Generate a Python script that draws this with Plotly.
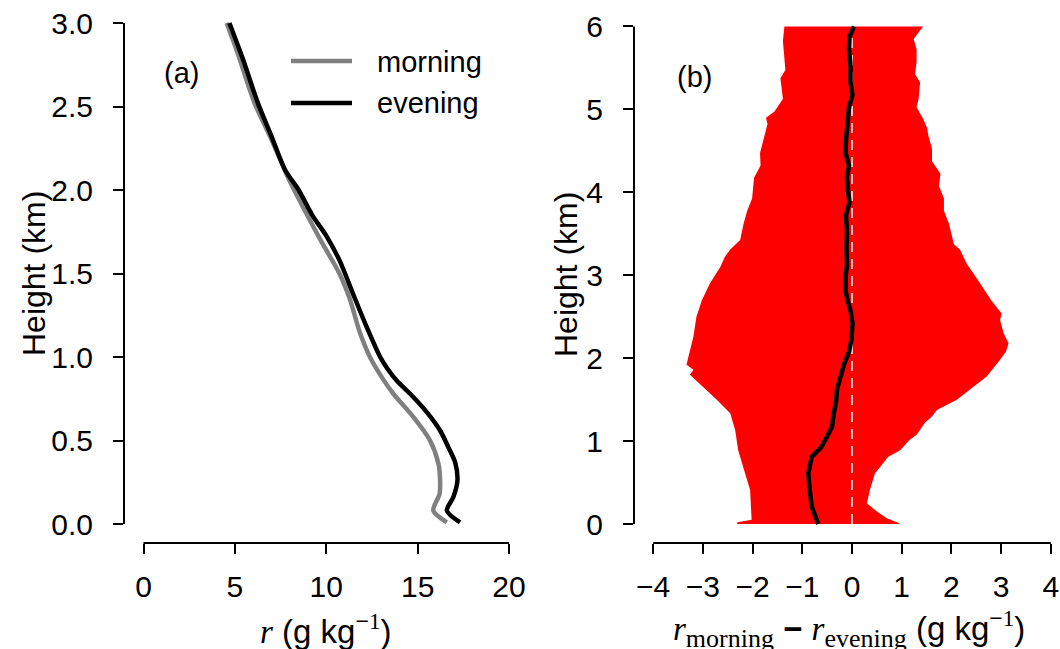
import plotly.graph_objects as go

# ---- panel (a): mixing-ratio profiles ----
height_morning = [0.01, 0.08, 0.18, 0.26, 0.36, 0.50, 0.64, 0.78, 0.86, 1.00, 1.15, 1.35,
                  1.50, 1.68, 1.87, 2.07, 2.30, 2.52, 2.82, 3.00]
r_morning = [16.60, 15.86, 16.20, 16.23, 16.14, 15.68, 14.77, 13.67, 13.15, 12.39, 11.83, 11.28,
             10.72, 9.79, 8.86, 7.93, 7.01, 6.08, 5.15, 4.55]

height_evening = [0.01, 0.08, 0.16, 0.26, 0.37, 0.46, 0.56, 0.67, 0.78, 0.86, 0.93, 1.00,
                  1.18, 1.38, 1.58, 1.73, 1.85, 2.00, 2.12, 2.32, 2.52, 2.79, 3.00]
r_evening = [17.32, 16.60, 16.95, 17.18, 17.05, 16.68, 16.23, 15.50, 14.59, 13.85, 13.35, 12.95,
             12.21, 11.46, 10.72, 9.98, 9.23, 8.49, 7.75, 7.01, 6.26, 5.42, 4.70]

# ---- panel (b): morning minus evening difference ----
band_lower_h = [0.0, 0.02, 0.05, 0.41, 0.61, 0.89, 1.13, 1.335, 1.50, 1.66, 1.80, 1.86, 1.92,
                2.02, 2.26, 2.50, 2.70, 2.90, 3.10, 3.22, 3.31, 3.425, 3.625, 3.775, 3.925,
                4.175, 4.325, 4.475, 4.625, 4.825, 4.90, 4.975, 5.125, 5.375, 5.475, 5.675,
                5.825, 6.0]
band_lower_x = [-2.32, -2.30, -2.02, -2.05, -2.15, -2.29, -2.35, -2.45, -2.72, -3.02, -3.26,
                -3.19, -3.33, -3.29, -3.19, -3.13, -3.02, -2.86, -2.65, -2.56, -2.45, -2.25,
                -2.18, -2.11, -2.01, -1.97, -1.84, -1.85, -1.78, -1.70, -1.73, -1.56, -1.39,
                -1.44, -1.34, -1.37, -1.39, -1.36]

band_upper_h = [0.0, 0.016, 0.07, 0.15, 0.25, 0.41, 0.61, 0.81, 0.89, 1.01, 1.075, 1.225,
                1.29, 1.375, 1.50, 1.78, 1.98, 2.08, 2.18, 2.30, 2.46, 2.54, 2.70, 2.90, 3.14,
                3.31, 3.375, 3.525, 3.625, 3.775, 3.925, 4.075, 4.225, 4.375, 4.525, 4.675,
                4.775, 4.875, 5.025, 5.125, 5.325, 5.425, 5.575, 5.725, 5.85, 6.0]
band_upper_x = [0.96, 0.93, 0.70, 0.50, 0.30, 0.36, 0.46, 0.73, 0.97, 1.15, 1.30, 1.47,
                1.60, 1.71, 2.11, 2.71, 2.98, 3.10, 3.15, 3.05, 2.98, 3.01, 2.80, 2.58, 2.31,
                2.17, 2.05, 1.99, 1.95, 1.85, 1.85, 1.75, 1.78, 1.61, 1.61, 1.54,
                1.51, 1.44, 1.30, 1.34, 1.37, 1.27, 1.30, 1.30, 1.24, 1.43]

mean_h = [0.0, 0.21, 0.41, 0.61, 0.81, 0.925, 1.01, 1.175, 1.325, 1.475, 1.625, 1.775, 1.925,
          2.075, 2.225, 2.425, 2.575, 2.725, 2.825, 2.975, 3.125, 3.325, 3.525, 3.725, 3.875,
          4.025, 4.175, 4.325, 4.475, 4.625, 4.825, 5.025, 5.175, 5.325, 5.525, 5.725, 5.875,
          6.0]
mean_diff = [-0.68, -0.81, -0.85, -0.88, -0.81, -0.62, -0.54, -0.40, -0.37, -0.32, -0.30, -0.23,
             -0.16, -0.06, -0.01, 0.01, -0.03, -0.10, -0.13, -0.13, -0.10, -0.11, -0.10, -0.12,
             -0.05, -0.08, -0.10, -0.06, -0.13, -0.12, -0.10, -0.06, 0.01, -0.03, -0.03, -0.06,
             -0.05, 0.04]

ticks_a_x = [0, 5, 10, 15, 20]
ticks_a_y = [0.0, 0.5, 1.0, 1.5, 2.0, 2.5, 3.0]
ticks_b_x = [-4, -3, -2, -1, 0, 1, 2, 3, 4]
ticks_b_y = [0, 1, 2, 3, 4, 5, 6]

W, H = 1060, 649
FONT = "Liberation Sans"
SERIF = "Liberation Serif"
TICK_SIZE = 30
LEGEND_SIZE = 29
TITLE_SIZE = 33


def px(x):
    return x / W


def py(y):
    return 1 - y / H


fig = go.Figure()

# panel (a)
profile_line = dict(width=4.5, shape="spline", smoothing=0.8)
fig.add_trace(go.Scatter(x=r_morning, y=height_morning, mode="lines",
                         line=dict(profile_line, color="#808080"),
                         xaxis="x", yaxis="y", showlegend=False))
fig.add_trace(go.Scatter(x=r_evening, y=height_evening, mode="lines",
                         line=dict(profile_line, color="black"),
                         xaxis="x", yaxis="y", showlegend=False))

# panel (b): filled band
band_x = band_lower_x + band_upper_x[::-1]
band_y = band_lower_h + band_upper_h[::-1]
fig.add_trace(go.Scatter(x=band_x, y=band_y, mode="lines", fill="toself",
                         fillcolor="#FF0000", line=dict(width=0, color="#FF0000"),
                         xaxis="x2", yaxis="y2", showlegend=False))
# zero reference
fig.add_trace(go.Scatter(x=[0, 0], y=[ticks_b_y[0], ticks_b_y[-1]], mode="lines",
                         line=dict(color="white", width=1.5, dash="10px,7px"),
                         xaxis="x2", yaxis="y2", showlegend=False))
fig.add_trace(go.Scatter(x=mean_diff, y=mean_h, mode="lines",
                         line=dict(color="black", width=4.5), xaxis="x2", yaxis="y2",
                         showlegend=False))

axis_common = dict(showgrid=False, zeroline=False, showline=False, ticks="outside",
                   ticklen=10, tickwidth=2, tickcolor="black",
                   tickfont=dict(family=FONT, size=TICK_SIZE, color="black"))
x_axis_common = dict(axis_common, ticklabelstandoff=7)
y_axis_common = dict(axis_common, ticklabelstandoff=14)

fig.update_layout(
    width=W, height=H,
    margin=dict(l=0, r=0, t=0, b=0),
    paper_bgcolor="white", plot_bgcolor="white",
    xaxis=dict(domain=[px(124), px(528.5)], range=[-1.067, 21.067],
               tickvals=ticks_a_x, anchor="y", **x_axis_common),
    yaxis=dict(domain=[py(543), py(4)], range=[-0.1138, 3.1138],
               tickvals=ticks_a_y, tickformat=".1f", anchor="x", **y_axis_common),
    xaxis2=dict(domain=[px(634), 1.0], range=[-4.386, 4.185],
                tickvals=ticks_b_x, anchor="y2", **x_axis_common),
    yaxis2=dict(domain=[py(543), py(7)], range=[-0.229, 6.235],
                tickvals=ticks_b_y, anchor="x2", **y_axis_common),
)

# detached axis lines spanning the tick range
line_style = dict(color="black", width=2)
fig.add_shape(type="line", xref="x domain", yref="y", x0=0, x1=0,
              y0=ticks_a_y[0], y1=ticks_a_y[-1], line=line_style)
fig.add_shape(type="line", xref="x", yref="y domain", y0=0, y1=0,
              x0=ticks_a_x[0], x1=ticks_a_x[-1], line=line_style)
fig.add_shape(type="line", xref="x2 domain", yref="y2", x0=0, x1=0,
              y0=ticks_b_y[0], y1=ticks_b_y[-1], line=line_style)
fig.add_shape(type="line", xref="x2", yref="y2 domain", y0=0, y1=0,
              x0=ticks_b_x[0], x1=ticks_b_x[-1], line=line_style)

# legend keys for panel (a)
fig.add_shape(type="line", xref="paper", yref="paper", x0=px(291), x1=px(352),
              y0=py(61), y1=py(61), line=dict(color="#808080", width=4.5))
fig.add_shape(type="line", xref="paper", yref="paper", x0=px(291), x1=px(352),
              y0=py(103), y1=py(103), line=dict(color="black", width=4.5))


def label(text, x, y, size, angle=0, xanchor="center"):
    fig.add_annotation(text=text, x=px(x), y=py(y), xref="paper", yref="paper",
                       showarrow=False, textangle=angle, xanchor=xanchor, yanchor="middle",
                       font=dict(family=FONT, size=size, color="black"))


label("morning", 375, 62, LEGEND_SIZE, xanchor="left")
label("evening", 375, 103, LEGEND_SIZE, xanchor="left")
label("(a)", 181, 73, LEGEND_SIZE)
label("(b)", 694, 77, LEGEND_SIZE)

label("Height (km)", 34, 274, TITLE_SIZE - 1, angle=-90)
label("Height (km)", 566, 275, TITLE_SIZE - 1, angle=-90)

sup = f"<sup>−<span style='font-family:{SERIF}'>1</span></sup>"
r_sym = f"<span style='font-family:{SERIF}'><i>r</i></span>"


def sub(word):
    return f"<sub><span style='font-family:{SERIF};font-size:26px'>{word}</span></sub>"


label(f"{r_sym} (g kg{sup})", 325, 629, TITLE_SIZE)
label(f"{r_sym}{sub('morning')} <b>−</b> {r_sym}{sub('evening')} (g kg{sup})",
      849, 629, TITLE_SIZE)

fig.write_html("out.html")
